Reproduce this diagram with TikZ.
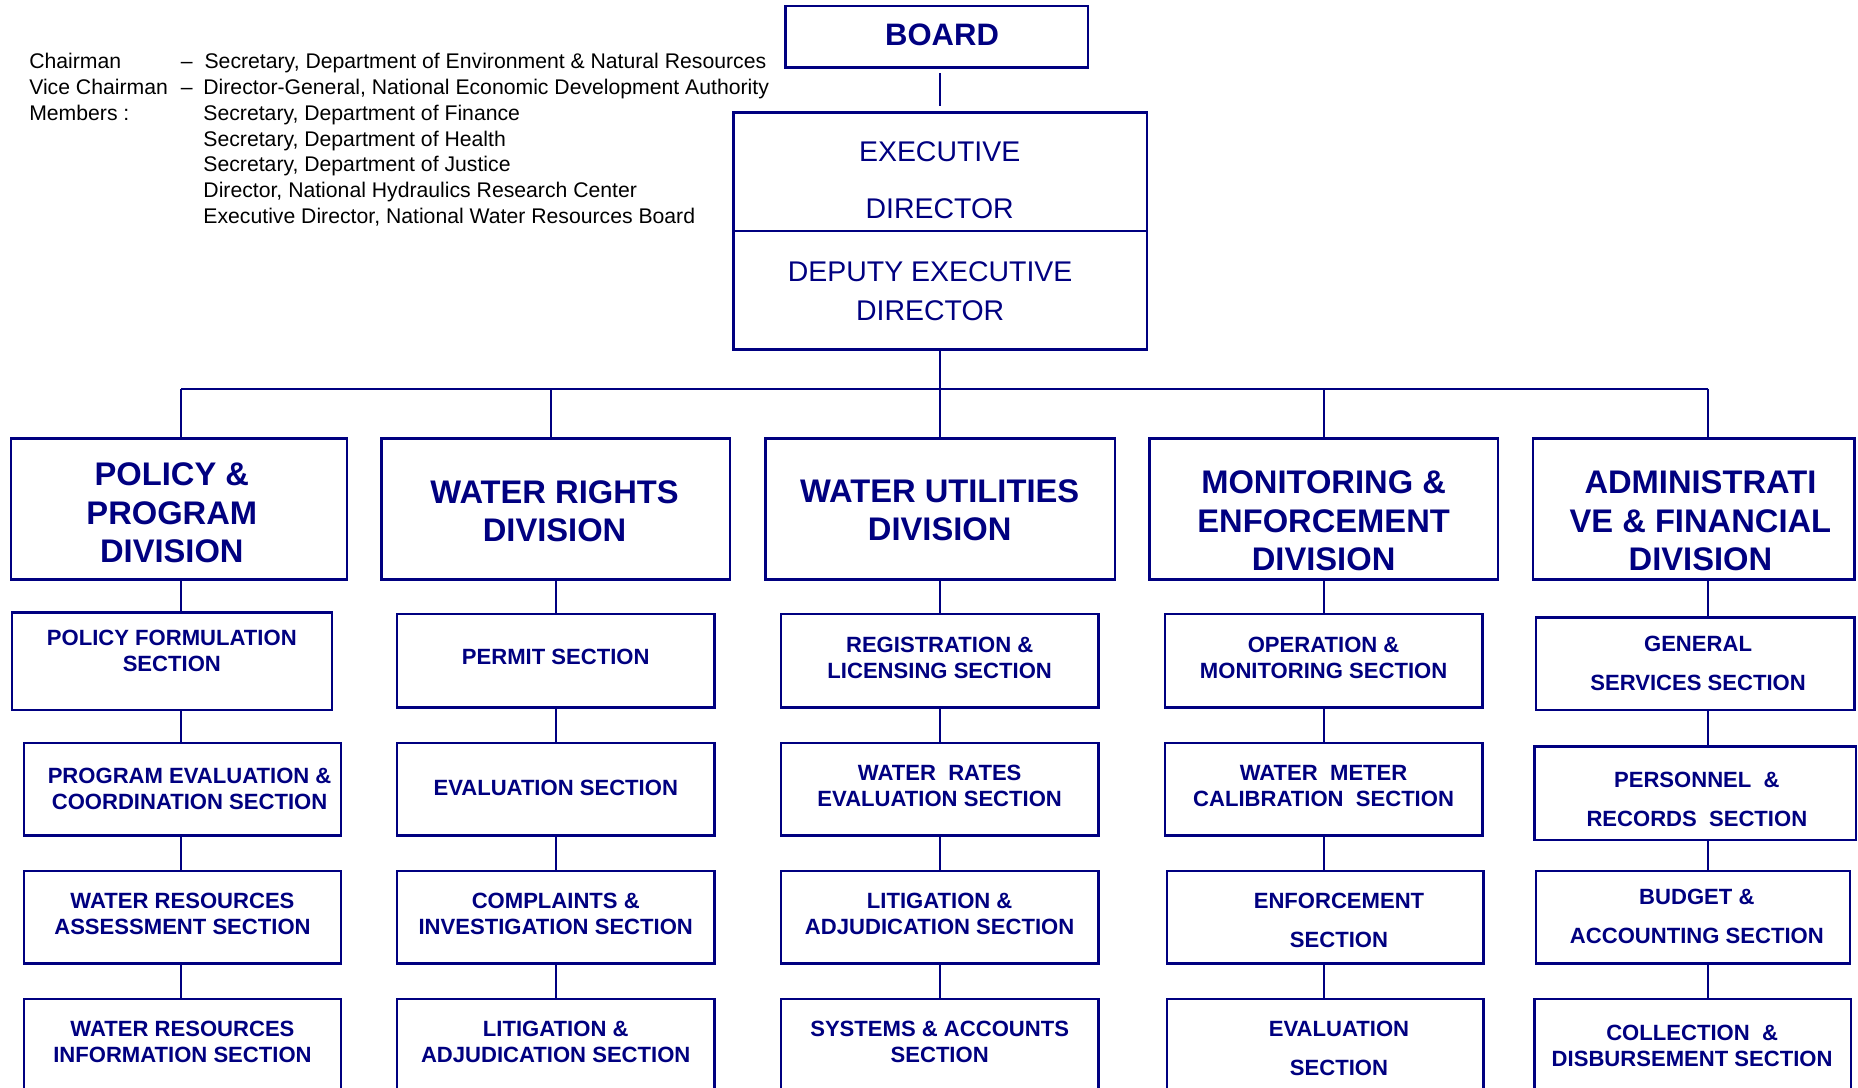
\documentclass[tikz,border=0pt]{standalone}
\usepackage{fontspec}
\setmainfont{Liberation Sans}
\usepackage{tikz}

\definecolor{navy}{RGB}{0,0,128}

\begin{document}
\begin{tikzpicture}[
    boxLine/.style={draw=navy, line width=0.55pt, inner sep=0pt},
    link/.style={navy, line width=0.5pt},
    divText/.style={text=navy, align=center, inner sep=0pt, font=\fontsize{7.85}{9.25}\selectfont\bfseries},
    secText/.style={text=navy, align=center, inner sep=0pt, font=\fontsize{5.3}{6.26}\selectfont\bfseries},
    headText/.style={text=navy, align=center, inner sep=0pt, font=\fontsize{6.83}{9.4}\selectfont}
]

    % Define parameters
    \def\pageWidth{15.68}
    \def\pageHeight{9.18}
    \def\busY{-3.28}   % Horizontal bus below the deputy
    \def\divY{-4.295}  % Centre line of the division boxes

    % Fix the frame and cut the bottom row at the page edge
    \useasboundingbox (0,0) rectangle (\pageWidth,-\pageHeight);
    \clip (0,0) rectangle (\pageWidth,-\pageHeight);

    % Board members
    \node[anchor=north west, align=left, inner sep=0pt, font=\fontsize{5.09}{6.17}\selectfont] (members) at (0.24,-0.445) {%
        \makebox[1.28cm][l]{Chairman}\makebox[0.20cm][l]{\textendash}Secretary, Department of Environment \& Natural Resources\\
        \makebox[1.28cm][l]{Vice Chairman}\makebox[0.19cm][l]{\textendash}Director-General, National Economic Development Authority\\
        \makebox[1.47cm][l]{Members :}Secretary, Department of Finance\\
        \hspace*{1.47cm}Secretary, Department of Health\\
        \hspace*{1.47cm}Secretary, Department of Justice\\
        \hspace*{1.47cm}Director, National Hydraulics Research Center\\
        \hspace*{1.47cm}Executive Director, National Water Resources Board};

    % Top of the chart
    \node[boxLine, minimum width=2.55cm, minimum height=0.52cm] (board) at (7.905,-0.31) {};
    \node[text=navy, inner sep=0pt, font=\fontsize{7.45}{9}\selectfont\bfseries] (boardT) at (7.95,-0.29) {BOARD};

    \node[boxLine, minimum width=3.49cm, minimum height=2.0cm] (exec) at (7.935,-1.95) {};
    \draw[link] (exec.west) -- (exec.east); % Split executive / deputy
    \node[headText] (execT) at (7.93,-1.52) {EXECUTIVE\\[4.26pt]DIRECTOR};
    \node[headText] (deputyT) at (7.85,-2.455) {DEPUTY EXECUTIVE\\DIRECTOR};

    \draw[link, shorten <=1.1pt, shorten >=1.4pt] (exec.north |- board.south) -- (exec.north);

    % Bus and column lines
    \coordinate (k1) at (1.53,\busY);
    \coordinate (k2) at (4.65,\busY);
    \coordinate (k3) at (7.93,\busY);
    \coordinate (k4) at (11.17,\busY);
    \coordinate (k5) at (14.41,\busY);
    \coordinate (l1) at (1.53,0);
    \coordinate (l2) at (4.69,0);
    \coordinate (l3) at (7.93,0);
    \coordinate (l4) at (11.17,0);
    \coordinate (l5) at (14.41,0);

    % Division boxes
    \foreach \nm/\x/\w in {d1/1.51/2.84, d2/4.69/2.94, d3/7.935/2.95, d4/11.17/2.94, d5/14.295/2.71}
        \node[boxLine, minimum width=\w cm, minimum height=1.19cm] (\nm) at (\x,\divY) {};

    \node[divText] (dt1) at (1.45,-4.33) {POLICY \&\\PROGRAM\\DIVISION};
    \node[divText] (dt2) at (4.68,-4.315) {WATER RIGHTS\\DIVISION};
    \node[divText] (dt3) at (7.93,-4.305) {WATER UTILITIES\\DIVISION};
    \node[divText] (dt4) at (11.17,-4.395) {MONITORING \&\\ENFORCEMENT\\DIVISION};
    \node[divText] (dt5) at (14.35,-4.395) {ADMINISTRATI\\VE \& FINANCIAL\\DIVISION};

    \draw[link] (exec.south) -- (exec.south |- k1);
    \draw[link] (k1) -- (k5);
    \foreach \i in {1,...,5}
        \draw[link] (k\i) -- (k\i |- d\i.north);

    % Section boxes (bottom row runs off the page)
    \foreach \nm/\x/\y/\w/\h in {
        s11/1.45/-5.58/2.70/0.82, s12/1.54/-6.66/2.68/0.78, s13/1.54/-7.74/2.68/0.78, s14/1.54/-8.855/2.68/0.85,
        s21/4.69/-5.575/2.68/0.79, s22/4.69/-6.66/2.68/0.78, s23/4.69/-7.74/2.68/0.78, s24/4.69/-8.855/2.68/0.85,
        s31/7.93/-5.575/2.68/0.79, s32/7.93/-6.66/2.68/0.78, s33/7.93/-7.74/2.68/0.78, s34/7.93/-8.855/2.68/0.85,
        s41/11.17/-5.575/2.68/0.79, s42/11.17/-6.66/2.68/0.78, s43/11.185/-7.74/2.67/0.78, s44/11.185/-8.855/2.67/0.85,
        s51/14.305/-5.60/2.69/0.78, s52/14.305/-6.695/2.71/0.79, s53/14.285/-7.74/2.65/0.78, s54/14.285/-8.855/2.67/0.85}
        \node[boxLine, minimum width=\w cm, minimum height=\h cm] (\nm) at (\x,\y) {};

    % Section names
    \foreach \nm/\x/\y/\txt in {
        st11/1.45/-5.49/{POLICY FORMULATION\\SECTION},
        st12/1.60/-6.66/{PROGRAM EVALUATION \&\\COORDINATION SECTION},
        st13/1.54/-7.71/{WATER RESOURCES\\ASSESSMENT SECTION},
        st14/1.54/-8.79/{WATER RESOURCES\\INFORMATION SECTION},
        st21/4.69/-5.54/{PERMIT SECTION},
        st22/4.69/-6.65/{EVALUATION SECTION},
        st23/4.69/-7.71/{COMPLAINTS \&\\INVESTIGATION SECTION},
        st24/4.69/-8.79/{LITIGATION \&\\ADJUDICATION SECTION},
        st31/7.93/-5.55/{REGISTRATION \&\\LICENSING SECTION},
        st32/7.93/-6.63/{WATER~~RATES\\EVALUATION SECTION},
        st33/7.93/-7.71/{LITIGATION \&\\ADJUDICATION SECTION},
        st34/7.93/-8.79/{SYSTEMS \& ACCOUNTS\\SECTION},
        st41/11.17/-5.55/{OPERATION \&\\MONITORING SECTION},
        st42/11.17/-6.63/{WATER~~METER\\CALIBRATION~~SECTION},
        st43/11.30/-7.765/{ENFORCEMENT\\[3.1pt]SECTION},
        st44/11.30/-8.845/{EVALUATION\\[3.1pt]SECTION},
        st51/14.33/-5.595/{GENERAL\\[3.1pt]SERVICES SECTION},
        st52/14.32/-6.75/{PERSONNEL~~\&\\[3.1pt]RECORDS~~SECTION},
        st53/14.32/-7.73/{BUDGET \&\\[3.1pt]ACCOUNTING SECTION},
        st54/14.28/-8.825/{COLLECTION~~\&\\DISBURSEMENT SECTION}}
        \node[secText] (\nm) at (\x,\y) {\txt};

    % Links down each column
    \foreach \c in {1,...,5} {
        \draw[link] (d\c.south -| l\c) -- (s\c1.north -| l\c);
        \draw[link] (s\c1.south -| l\c) -- (s\c2.north -| l\c);
        \draw[link] (s\c2.south -| l\c) -- (s\c3.north -| l\c);
        \draw[link] (s\c3.south -| l\c) -- (s\c4.north -| l\c);
    }

\end{tikzpicture}
\end{document}
